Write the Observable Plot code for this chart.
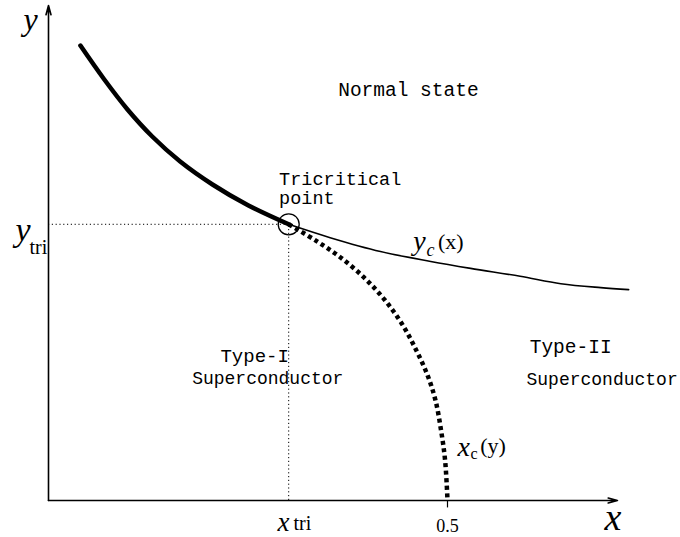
<!DOCTYPE html>
<html>
<head>
<meta charset="utf-8">
<script src="https://cdn.jsdelivr.net/npm/d3@7"></script>
<script src="https://cdn.jsdelivr.net/npm/@observablehq/plot@0.6"></script>
<style>
  html, body { margin: 0; padding: 0; background: #fff; }
  svg { display: block; }
</style>
</head>
<body>
<div id="chart"></div>
<script>
// ---- data (x, y in reduced units; x_c = 0.5 at y = 0) ----
const xTri = 0.301;
const yTri = 0.558;

// first-order line (thick), y_c(x) continuation (thin), x_c(y) (dotted)
const firstOrderX = [0.040, 0.069, 0.099, 0.130, 0.165, 0.2055, 0.2506, 0.301];
const firstOrderY = [0.919, 0.8525, 0.790, 0.7354, 0.6848, 0.6384, 0.596, 0.558];

const ycX = [0.301, 0.353, 0.416, 0.479, 0.529, 0.591, 0.642, 0.692, 0.727];
const ycY = [0.558, 0.531, 0.503, 0.483, 0.469, 0.453, 0.438, 0.430, 0.426];

const xcX = [0.301, 0.335, 0.366, 0.397, 0.422, 0.444, 0.461, 0.475, 0.485, 0.492, 0.497, 0.500];
const xcY = [0.558, 0.525, 0.491, 0.448, 0.404, 0.354, 0.303, 0.253, 0.202, 0.141, 0.081, 0.000];

// region labels (monospace)
const regionText = ["Normal state", "Tricritical\npoint", "Type-I", "Superconductor", "Type-II", "Superconductor"];
const regionX    = [0.363, 0.289, 0.2155, 0.180, 0.603, 0.599];
const regionY    = [0.818, 0.598, 0.279, 0.236, 0.297, 0.234];
const regionSize = [19.5, 18.5, 19, 18, 19.5, 18];

// math labels (serif)
const mathText   = ["y", "y", "tri", "x", "tri", "0.5", "x", "y", "c", "(x)", "x", "c", "(y)"];
const mathX      = [-0.0313, -0.0413, -0.0238, 0.287, 0.307, 0.500, 0.6967, 0.457, 0.4737, 0.488, 0.5125, 0.5288, 0.541];
const mathY      = [0.9515, 0.525, 0.497, -0.0626, -0.0606, -0.0646, -0.0606, 0.507, 0.493, 0.509, 0.0909, 0.0848, 0.095];
const mathSize   = [32, 34, 20, 27, 20, 18, 38, 28, 18, 22, 28, 16, 22];
const mathStyle  = ["italic", "italic", "normal", "italic", "normal", "normal", "italic", "italic", "italic", "normal", "italic", "normal", "normal"];
const mathAnchor = ["start", "start", "start", "start", "start", "middle", "start", "start", "start", "start", "start", "start", "start"];

const xAxisEnd = 0.713;
const yAxisEnd = 1.0;

// ---- build tables ----
const firstOrder = firstOrderX.map((x, i) => ({x, y: firstOrderY[i]}));
const yc = ycX.map((x, i) => ({x, y: ycY[i]}));
const xc = xcX.map((x, i) => ({x, y: xcY[i]}));
const regions = regionText.map((t, i) => ({t, x: regionX[i], y: regionY[i], s: regionSize[i]}));
const maths = mathText.map((t, i) => ({t, x: mathX[i], y: mathY[i], s: mathSize[i], st: mathStyle[i], a: mathAnchor[i]}));

const serif = "Liberation Serif, Times New Roman, serif";
const mono = "Liberation Mono, Courier New, monospace";

const marks = [
  // axes
  Plot.arrow([{x1: 0, y1: 0, x2: xAxisEnd, y2: 0}], {x1: "x1", y1: "y1", x2: "x2", y2: "y2", stroke: "black", strokeWidth: 1.6, headLength: 9, headAngle: 30}),
  Plot.arrow([{x1: 0, y1: 0, x2: 0, y2: yAxisEnd}], {x1: "x1", y1: "y1", x2: "x2", y2: "y2", stroke: "black", strokeWidth: 1.6, headLength: 9, headAngle: 30}),
  // tick at 0.5
  Plot.ruleX([0.5], {y1: 0, y2: -0.015, stroke: "black", strokeWidth: 1.2}),
  // dotted guides to tricritical point
  Plot.ruleY([yTri], {x1: 0, x2: xTri, stroke: "black", strokeWidth: 1, strokeDasharray: "1.2,2.6"}),
  Plot.ruleX([xTri], {y1: 0, y2: yTri, stroke: "black", strokeWidth: 1, strokeDasharray: "1.2,2.6"}),
  // curves
  Plot.line(yc, {x: "x", y: "y", curve: "catmull-rom", stroke: "black", strokeWidth: 1.6}),
  Plot.line(xc, {x: "x", y: "y", curve: "catmull-rom", stroke: "black", strokeWidth: 4.5, strokeLinecap: "butt", strokeDasharray: "4,3.5"}),
  Plot.line(firstOrder, {x: "x", y: "y", curve: "catmull-rom", stroke: "black", strokeWidth: 4.5}),
  // tricritical circle
  Plot.dot([{x: xTri, y: yTri}], {x: "x", y: "y", r: 10.5, stroke: "black", strokeWidth: 1.3, fill: "none"}),
];
for (const r of regions) {
  marks.push(Plot.text([r], {x: "x", y: "y", text: "t", textAnchor: "start", lineAnchor: "bottom", lineHeight: 1.05, fontFamily: mono, fontSize: r.s, fill: "black"}));
}
for (const m of maths) {
  marks.push(Plot.text([m], {x: "x", y: "y", text: "t", textAnchor: m.a, lineAnchor: "bottom", fontFamily: serif, fontSize: m.s, fontStyle: m.st, fill: "black"}));
}

const chart = Plot.plot({
  width: 680,
  height: 537,
  marginLeft: 48,
  marginRight: 33.5,
  marginTop: 5,
  marginBottom: 37,
  x: {domain: [0, 0.75], axis: null},
  y: {domain: [0, 1], axis: null},
  style: {background: "white", overflow: "visible"},
  marks
});
document.getElementById("chart").appendChild(chart);
</script>
</body>
</html>
